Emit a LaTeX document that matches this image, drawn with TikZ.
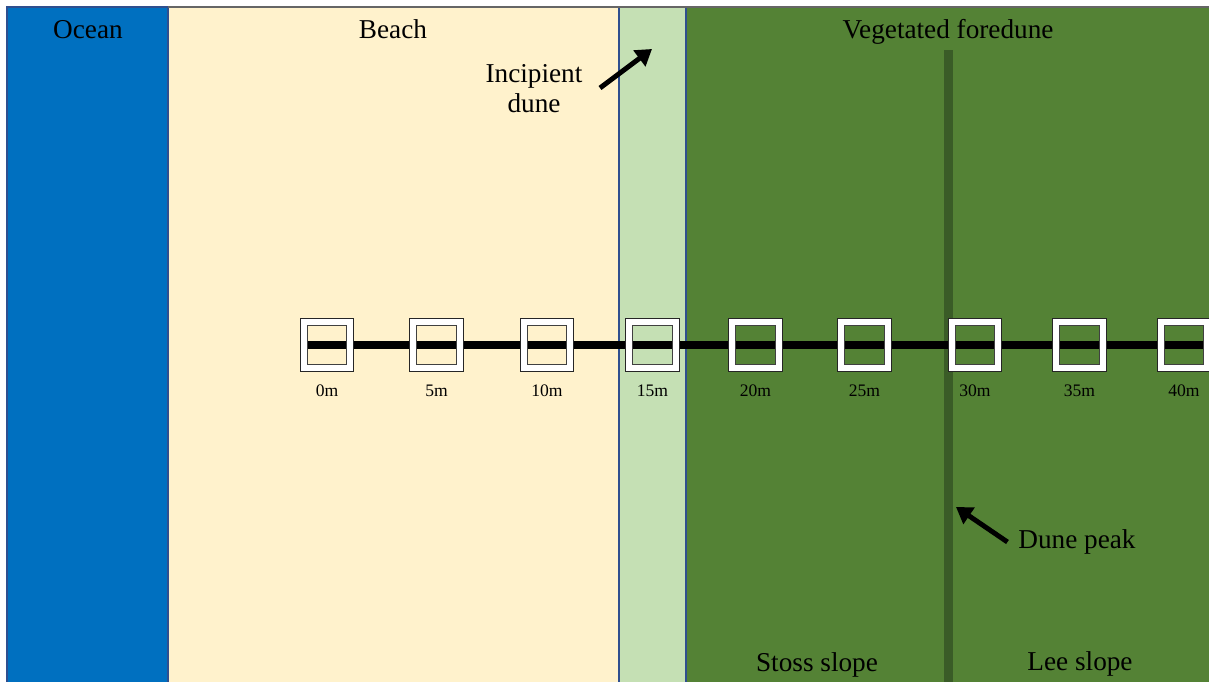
\documentclass[tikz,border=0pt]{standalone}
\usepackage{fontspec}
\setmainfont{Liberation Serif}
\usetikzlibrary{arrows.meta,positioning}

\definecolor{oceanblue}{HTML}{0070C0}
\definecolor{sand}{HTML}{FFF2CC}
\definecolor{palegreen}{HTML}{C5E0B4}
\definecolor{dunegreen}{HTML}{548235}
\definecolor{peakgreen}{HTML}{3A5C27}
\definecolor{edgeblue}{HTML}{2F4F8F}

\begin{document}
\begin{tikzpicture}[
      x=0.02cm, y=-0.02cm,
      title/.style={
        anchor=base,
        inner sep=0pt,
        font=\fontsize{15.5}{17}\selectfont
      },
      tag/.style={
        anchor=base,
        inner sep=0pt,
        font=\fontsize{10}{12}\selectfont
      },
      plot/.style={
        rectangle,
        minimum size=53*0.02cm,
        inner sep=0pt
      },
      pointer/.style={
        line width=2.8pt,
        -{Triangle[length=9pt,width=11pt]}
      }
    ]

    \useasboundingbox (0,0) rectangle (1209,682);
    \clip (0,0) rectangle (1209,682);

    % zones across the transect
    \fill [oceanblue] (7,7) rectangle (168,690);
    \fill [sand] (168,7) rectangle (619,690);
    \fill [palegreen] (619,7) rectangle (686,690);
    \fill [dunegreen] (686,7) rectangle (1215,690);
    \draw [edgeblue, line width=0.6pt] (7,690) -- (7,7) -- (168,7) -- (168,690);
    \draw [edgeblue, line width=0.6pt] (619,7) -- (619,690) (686,7) -- (686,690);
    \draw [gray!80!black, line width=0.6pt] (168,7) -- (1215,7);

    % dune crest
    \fill [peakgreen] (944,50) rectangle (952.5,690);

    \node [title] (Ocean) at (88,39) {Ocean};
    \node [title] (Beach) at (393,39) {Beach};
    \node [title] (Foredune) at (948,39) {Vegetated foredune};
    \node [title, align=center, anchor=center] (Incip) at (534,89) {Incipient\\dune};
    \node [title, anchor=west] (Peak) at (1018,542) {Dune peak};
    \node [title] (Stoss) at (817,671) {Stoss slope};
    \node [title] (Lee) at (1080,670) {Lee slope};

    % quadrats along the transect
    \foreach \x/\d [count=\i from 0] in {327/0,436.5/5,547/10,652.5/15,755.5/20,864.5/25,975/30,1079.5/35,1184/40} {
      \node [plot] (Q\i) at (\x,345) {};
      \node [tag, below=14pt of Q\i.south, anchor=base] (L\i) {\d m};
    }

    \draw [line width=4.9pt] (Q0.west) -- (Q8.center) -- ++(40,0);

    \foreach \i in {0,...,8} {
      \fill [white, even odd rule] (Q\i.south west) rectangle (Q\i.north east)
        ([shift={(7,-7)}]Q\i.south west) rectangle ([shift={(-7,7)}]Q\i.north east);
      \draw [black!85, line width=0.7pt] (Q\i.south west) rectangle (Q\i.north east);
      \draw [black!75, line width=0.7pt] ([shift={(7,-7)}]Q\i.south west) rectangle ([shift={(-7,7)}]Q\i.north east);
    }

    \coordinate (IncipTail) at (600,88);
    \coordinate (IncipTip) at (652,49);
    \coordinate (PeakTip) at (956,507);
    \draw [pointer] (IncipTail) -- (IncipTip);
    \draw [pointer] ([xshift=-6pt]Peak.west) -- (PeakTip);

    \end{tikzpicture}
\end{document}
